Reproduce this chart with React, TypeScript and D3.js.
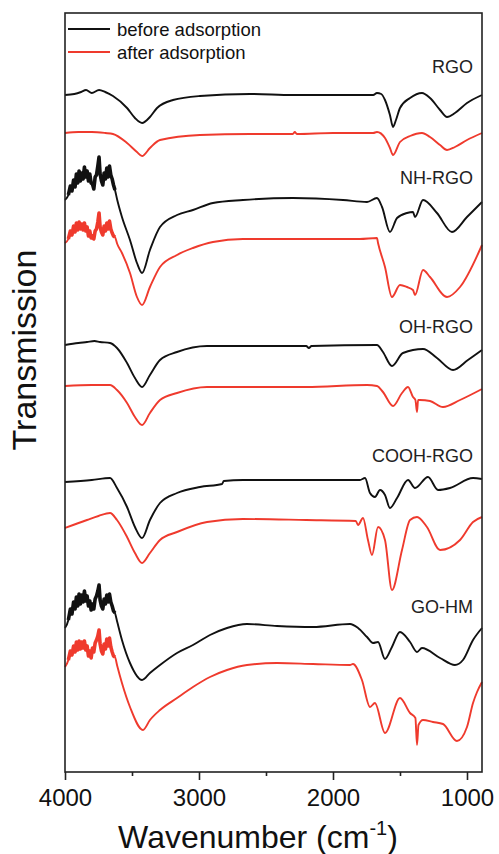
import React, { useEffect, useRef } from 'react';
import * as d3 from 'd3';

type Pt = [number, number]; // [wavenumber cm-1, transmission a.u.]

const samples = ['RGO', 'NH-RGO', 'OH-RGO', 'COOH-RGO', 'GO-HM'];
const legendLabels = ['before adsorption', 'after adsorption'];
const xTicks = [4000, 3000, 2000, 1000];
const xMinorTicks = [3500, 2500, 1500];

const rgoBefore: Pt[] = [
    [4000, 677], [3930, 678], [3880, 680], [3843, 682], [3800, 679], [3746, 682], [3700, 680],
    [3642, 676], [3537, 664], [3478, 654], [3425, 649], [3366, 655], [3313, 664], [3194, 672],
    [2993, 676], [2619, 678], [2300, 677], [2000, 677], [1700, 677], [1672, 679], [1640, 678],
    [1612, 672], [1575, 657], [1552, 645], [1530, 652], [1500, 664], [1425, 674], [1336, 679],
    [1276, 674], [1201, 662], [1149, 655], [1090, 659], [1000, 669], [888, 677],
];
const rgoAfter: Pt[] = [
    [4000, 639], [3900, 640], [3800, 640], [3700, 639], [3642, 638], [3537, 629], [3463, 620],
    [3425, 616], [3366, 624], [3291, 632], [2993, 637], [2619, 638], [2300, 638], [2285, 640],
    [2270, 638], [2000, 639], [1700, 639], [1672, 640], [1612, 634], [1575, 624], [1552, 617],
    [1500, 630], [1425, 636], [1336, 639], [1276, 635], [1201, 627], [1149, 622], [1090, 625],
    [1000, 632], [888, 639],
];

const nhBefore: Pt[] = [
    [4000, 572], [3975, 577], [3960, 586], [3948, 581], [3936, 592], [3925, 585], [3915, 598],
    [3905, 589], [3895, 601], [3885, 591], [3875, 599], [3865, 593], [3855, 605], [3845, 595],
    [3835, 601], [3825, 591], [3815, 598], [3805, 589], [3795, 588], [3785, 583], [3775, 595],
    [3765, 597], [3755, 606], [3746, 615], [3738, 598], [3728, 591], [3718, 587], [3708, 599],
    [3698, 593], [3688, 604], [3678, 595], [3668, 606], [3658, 597], [3648, 593], [3638, 587],
    [3627, 582], [3610, 572], [3575, 555], [3515, 532], [3463, 509], [3425, 499], [3366, 522],
    [3291, 545], [3164, 557], [3045, 562], [2896, 569], [2672, 572], [2299, 574], [1925, 572],
    [1746, 570], [1672, 574], [1634, 565], [1575, 540], [1522, 554], [1448, 559], [1403, 560],
    [1388, 555], [1328, 572], [1224, 559], [1112, 540], [1000, 555], [888, 570],
];
const nhAfter: Pt[] = [
    [4000, 529], [3975, 533], [3960, 541], [3948, 537], [3936, 546], [3925, 540], [3915, 549],
    [3905, 542], [3895, 550], [3885, 543], [3875, 548], [3865, 542], [3855, 549], [3845, 541],
    [3835, 545], [3825, 536], [3815, 541], [3805, 534], [3795, 536], [3785, 533], [3775, 541],
    [3765, 543], [3755, 550], [3746, 559], [3738, 545], [3728, 540], [3718, 537], [3708, 546],
    [3698, 541], [3688, 549], [3678, 543], [3668, 551], [3658, 543], [3648, 539], [3638, 536],
    [3627, 535], [3610, 528], [3575, 519], [3515, 499], [3463, 475], [3425, 467], [3366, 485],
    [3291, 505], [3164, 517], [3045, 524], [2896, 530], [2672, 533], [2200, 533], [1800, 533],
    [1672, 534], [1664, 529], [1612, 505], [1560, 475], [1500, 487], [1448, 485], [1403, 482],
    [1388, 477], [1328, 502], [1276, 495], [1149, 475], [1052, 485], [888, 527],
];

const ohBefore: Pt[] = [
    [4000, 427], [3900, 429], [3836, 430], [3780, 431], [3739, 430], [3664, 429], [3612, 424],
    [3537, 409], [3478, 394], [3425, 385], [3366, 397], [3291, 412], [3164, 420], [2940, 426],
    [2200, 426], [2180, 424], [2160, 426], [1672, 427], [1627, 420], [1560, 406], [1478, 419],
    [1328, 423], [1224, 414], [1104, 402], [993, 412], [888, 422],
];
const ohAfter: Pt[] = [
    [4000, 386], [3800, 387], [3664, 387], [3612, 382], [3537, 369], [3478, 355], [3425, 347],
    [3366, 359], [3291, 372], [3164, 379], [2940, 385], [2200, 385], [1746, 387], [1672, 386],
    [1627, 380], [1552, 366], [1485, 379], [1440, 385], [1403, 375], [1385, 372], [1373, 360],
    [1365, 372], [1351, 372], [1276, 371], [1179, 365], [1052, 372], [888, 383],
];

const coohBefore: Pt[] = [
    [4000, 290], [3800, 292], [3664, 294], [3612, 284], [3537, 265], [3478, 245], [3425, 234],
    [3366, 252], [3291, 269], [3164, 279], [2993, 285], [2828, 288], [2815, 291], [2672, 292],
    [1799, 292], [1761, 294], [1724, 279], [1687, 275], [1649, 282], [1612, 277], [1575, 264],
    [1522, 274], [1440, 292], [1388, 284], [1291, 295], [1216, 282], [1127, 284], [955, 294],
    [888, 293],
];
const coohAfter: Pt[] = [
    [4000, 244], [3836, 252], [3750, 256], [3664, 259], [3612, 252], [3537, 235], [3478, 219],
    [3425, 209], [3366, 219], [3291, 232], [3164, 240], [2940, 250], [2672, 253], [2200, 252],
    [1830, 251], [1813, 247], [1776, 254], [1739, 232], [1709, 217], [1664, 245], [1612, 232],
    [1560, 182], [1485, 222], [1425, 252], [1373, 255], [1299, 245], [1201, 222], [1052, 232],
    [955, 250], [888, 255],
];

const gohmBefore: Pt[] = [
    [4000, 144], [3975, 152], [3960, 163], [3948, 158], [3936, 170], [3925, 163], [3915, 175],
    [3905, 166], [3895, 178], [3885, 168], [3875, 177], [3865, 170], [3855, 181], [3845, 171],
    [3835, 176], [3825, 166], [3815, 171], [3805, 162], [3795, 168], [3785, 163], [3775, 173],
    [3765, 176], [3755, 181], [3746, 187], [3738, 172], [3728, 166], [3718, 163], [3708, 173],
    [3698, 168], [3688, 177], [3678, 170], [3668, 178], [3658, 170], [3648, 166], [3638, 161],
    [3627, 159], [3610, 150], [3575, 132], [3515, 109], [3425, 92], [3366, 99], [3291, 107],
    [3164, 119], [3045, 127], [2918, 137], [2791, 144], [2642, 148], [2418, 146], [2149, 145],
    [1873, 148], [1813, 144], [1746, 135], [1701, 129], [1664, 130], [1612, 113], [1560, 125],
    [1500, 140], [1425, 130], [1373, 120], [1336, 124], [1201, 114], [1090, 107], [1030, 112],
    [955, 132], [888, 144],
];
const gohmAfter: Pt[] = [
    [4000, 105], [3975, 112], [3960, 121], [3948, 117], [3936, 126], [3925, 120], [3915, 130],
    [3905, 122], [3895, 131], [3885, 123], [3875, 130], [3865, 124], [3855, 131], [3845, 122],
    [3835, 126], [3825, 116], [3815, 121], [3805, 114], [3795, 124], [3785, 120], [3775, 129],
    [3765, 132], [3755, 136], [3746, 142], [3738, 128], [3728, 121], [3718, 118], [3708, 128],
    [3698, 123], [3688, 133], [3678, 126], [3668, 134], [3658, 125], [3648, 120], [3638, 116],
    [3627, 115], [3610, 106], [3575, 89], [3515, 65], [3418, 42], [3366, 52], [3291, 62],
    [3164, 74], [3045, 85], [2918, 95], [2791, 102], [2642, 107], [2418, 109], [2149, 108],
    [1873, 107], [1851, 108], [1784, 92], [1724, 65], [1687, 69], [1612, 39], [1500, 74],
    [1425, 59], [1385, 54], [1373, 27], [1362, 47], [1328, 52], [1254, 50], [1179, 48],
    [1075, 31], [1000, 45], [955, 69], [925, 80], [888, 90],
];

const beforeSeries = [rgoBefore, nhBefore, ohBefore, coohBefore, gohmBefore];
const afterSeries = [rgoAfter, nhAfter, ohAfter, coohAfter, gohmAfter];
// spectra with a noisy O-H region (drawn heavier there)
const noisySamples = [1, 4];

const FONT = "Arial, 'Liberation Sans', Helvetica, sans-serif";
const BLACK = '#111';
const RED = '#ef3a2d';

function drawChart(svgRoot: SVGSVGElement) {
    const svg = d3.select(svgRoot);
    svg.selectChildren().remove();

    const width = 499;
    const height = 854;
    const margin = { top: 13, right: 17, bottom: 82, left: 65 };

    const x = d3.scaleLinear().domain([4000, 888]).range([margin.left, width - margin.right]);
    const y = d3.scaleLinear().domain([0, 759]).range([height - margin.bottom, margin.top]);

    svg.attr('viewBox', [0, 0, width, height] as any)
        .attr('width', width)
        .attr('height', height)
        .style('font-family', FONT);

    const line = d3.line<Pt>()
        .x((d) => x(d[0]))
        .y((d) => y(d[1]))
        .curve(d3.curveMonotoneX);

    const g = svg.append('g');

    // spectra
    const drawSet = (set: Pt[][], color: string) => {
        g.selectAll(null)
            .data(set)
            .enter().append('path')
            .attr('fill', 'none')
            .attr('stroke', color)
            .attr('stroke-width', 1.9)
            .attr('stroke-linejoin', 'round')
            .attr('d', (d) => line(d));
        // heavier trace through the noisy band
        g.selectAll(null)
            .data(noisySamples.map((i) => set[i].filter((p) => p[0] <= 3980 && p[0] >= 3620)))
            .enter().append('path')
            .attr('fill', 'none')
            .attr('stroke', color)
            .attr('stroke-width', 3.6)
            .attr('stroke-linejoin', 'round')
            .attr('d', (d) => d3.line<Pt>().x((p) => x(p[0])).y((p) => y(p[1]))(d));
    };
    drawSet(afterSeries, RED);
    drawSet(beforeSeries, BLACK);

    // sample labels, sitting above the black curve's right end
    const labelGap = [22, 18, 17, 17, 15];
    g.selectAll(null)
        .data(samples)
        .enter().append('text')
        .attr('x', width - margin.right - 9)
        .attr('y', (d, i) => y(beforeSeries[i][beforeSeries[i].length - 1][1]) - labelGap[i])
        .attr('text-anchor', 'end')
        .attr('font-size', 18)
        .attr('fill', '#222')
        .text((d) => d);

    // frame
    g.append('rect')
        .attr('x', margin.left)
        .attr('y', margin.top)
        .attr('width', width - margin.left - margin.right)
        .attr('height', height - margin.top - margin.bottom)
        .attr('fill', 'none')
        .attr('stroke', '#222')
        .attr('stroke-width', 1.6);

    // x axis
    const axis = g.append('g')
        .attr('transform', `translate(0,${height - margin.bottom})`)
        .call(d3.axisBottom(x).tickValues(xTicks).tickSize(8).tickPadding(9).tickFormat(d3.format('d')));
    axis.select('.domain').remove();
    axis.selectAll('line').attr('stroke', '#222').attr('stroke-width', 1.6);
    axis.selectAll('text').attr('font-size', 24).attr('font-family', FONT).attr('fill', '#111');

    const minor = g.append('g')
        .attr('transform', `translate(0,${height - margin.bottom})`)
        .call(d3.axisBottom(x).tickValues(xMinorTicks).tickSize(4).tickFormat(() => ''));
    minor.select('.domain').remove();
    minor.selectAll('line').attr('stroke', '#222').attr('stroke-width', 1.6);

    // axis titles
    const xt = g.append('text')
        .attr('x', 258)
        .attr('y', 848)
        .attr('text-anchor', 'middle')
        .attr('font-size', 32)
        .attr('fill', '#111');
    xt.append('tspan').text('Wavenumber (cm');
    xt.append('tspan').attr('font-size', 20).attr('dy', -13).text('-1');
    xt.append('tspan').attr('dy', 13).text(')');

    g.append('text')
        .attr('transform', `translate(36,${350}) rotate(-90)`)
        .attr('text-anchor', 'middle')
        .attr('font-size', 34)
        .attr('fill', '#111')
        .text('Transmission');

    // legend
    const legend = g.append('g');
    const colors = [BLACK, RED];
    legendLabels.forEach((label, i) => {
        const ly = 29 + i * 23;
        legend.append('line')
            .attr('x1', 68).attr('x2', 110)
            .attr('y1', ly).attr('y2', ly)
            .attr('stroke', colors[i])
            .attr('stroke-width', 2);
        legend.append('text')
            .attr('x', 117)
            .attr('y', ly + 6.5)
            .attr('font-size', 18.5)
            .attr('fill', '#111')
            .text(label);
    });
}

function Chart() {
    const svgRef = useRef<SVGSVGElement>(null);
    useEffect(() => {
        svgRef.current && drawChart(svgRef.current);
    }, []);
    return <svg ref={svgRef} style={{ display: 'block' }} />;
}

export default function App() {
    return (
        <div style={{ position: 'absolute', left: 0, top: 0, background: '#fff' }}>
            <Chart />
        </div>
    );
}
